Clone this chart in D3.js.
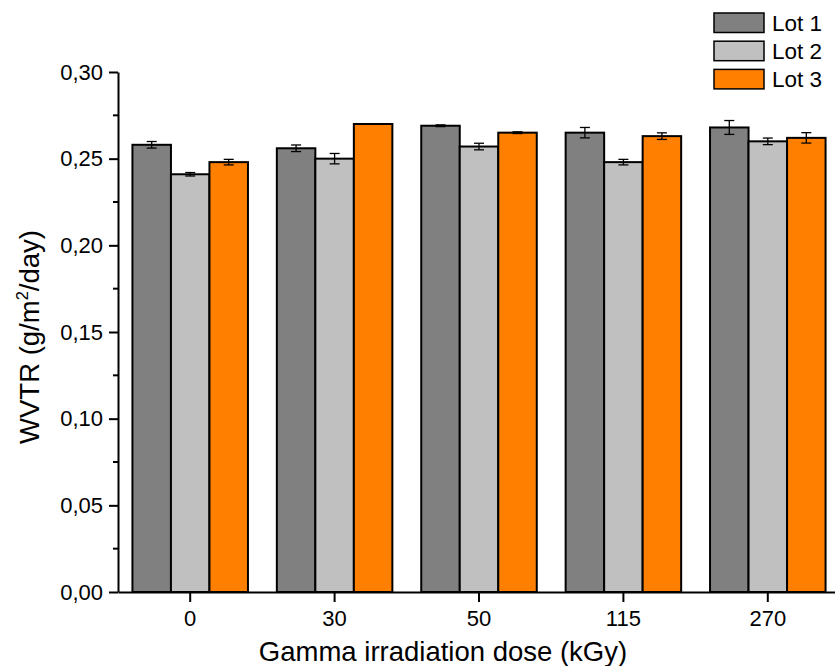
<!DOCTYPE html>
<html><head><meta charset="utf-8">
<script src="https://cdn.jsdelivr.net/npm/d3@7"></script>
<style>body{margin:0;background:#fff}svg{display:block;font-family:Arial,"Liberation Sans",sans-serif}</style>
</head><body><svg id="c" width="835" height="666"></svg>
<script>
const categories = ["0","30","50","115","270"];
const seriesNames = ["Lot 1","Lot 2","Lot 3"];
const lot1 = [0.258,0.256,0.269,0.265,0.268];
const lot2 = [0.241,0.250,0.257,0.248,0.260];
const lot3 = [0.248,0.270,0.265,0.263,0.262];
const err1 = [0.0019,0.0019,0.0005,0.0030,0.0040];
const err2 = [0.0010,0.0030,0.0019,0.0016,0.0019];
const err3 = [0.0016,0.0000,0.0005,0.0019,0.0030];
const colors = ["#808080","#C0C0C0","#FF8000"];
const yTicks = [0,0.05,0.10,0.15,0.20,0.25,0.30];

const values=[lot1,lot2,lot3], errs=[err1,err2,err3];
const svg=d3.select("#c");
const L=118,R=840,T=72,B=592;
const x=d3.scaleBand().domain(categories).range([L,R]).paddingInner(0).paddingOuter(0);
const xs=d3.scaleBand().domain(seriesNames).range([0,x.bandwidth()]).paddingInner(0).paddingOuter(0.375);
const y=d3.scaleLinear().domain([0,0.30]).range([B,T]);

// bars
seriesNames.forEach((s,si)=>{
  const g=svg.append("g");
  g.selectAll("rect").data(categories).join("rect")
    .attr("x",(c)=>x(c)+xs(s)).attr("width",xs.bandwidth())
    .attr("y",(c,i)=>y(values[si][i])).attr("height",(c,i)=>B-y(values[si][i]))
    .attr("fill",colors[si]).attr("stroke","#000").attr("stroke-width",2);
  categories.forEach((c,i)=>{
    const e=errs[si][i]; if(e<=0) return;
    const cx=x(c)+xs(s)+xs.bandwidth()/2;
    const y1=y(values[si][i]+e), y2=y(values[si][i]-e);
    g.append("line").attr("x1",cx).attr("x2",cx).attr("y1",y1).attr("y2",y2).attr("stroke","#000").attr("stroke-width",1.3);
    [y1,y2].forEach(yy=>g.append("line").attr("x1",cx-5).attr("x2",cx+5).attr("y1",yy).attr("y2",yy).attr("stroke","#000").attr("stroke-width",1.3));
  });
});

// y axis
const ya=svg.append("g").attr("transform",`translate(${L},0)`)
  .call(d3.axisLeft(y).tickValues(yTicks).tickSize(9).tickSizeOuter(0).tickPadding(6).tickFormat(d=>d3.format(".2f")(d).replace(".",",")));
ya.select(".domain").attr("stroke-width",2);
ya.selectAll(".tick line").attr("stroke-width",2);
ya.selectAll("text").attr("font-size",22).attr("font-family","Arial,'Liberation Sans',sans-serif").attr("fill","#000");
const minor=d3.range(0.025,0.30,0.05);
svg.append("g").selectAll("line").data(minor).join("line")
  .attr("x1",L-5).attr("x2",L).attr("y1",d=>y(d)).attr("y2",d=>y(d)).attr("stroke","#000").attr("stroke-width",2);

// x axis
const xa=svg.append("g").attr("transform",`translate(0,${B})`)
  .call(d3.axisBottom(x).tickSize(10).tickSizeOuter(0).tickPadding(8));
xa.select(".domain").attr("stroke-width",2);
xa.selectAll(".tick line").attr("stroke-width",2);
xa.selectAll("text").attr("font-size",22).attr("font-family","Arial,'Liberation Sans',sans-serif").attr("fill","#000");

// titles
svg.append("text").attr("x",443).attr("y",661).attr("text-anchor","middle")
  .attr("font-size",27.5).text("Gamma irradiation dose (kGy)");
const yt=svg.append("text").attr("transform",`translate(39,337) rotate(-90)`).attr("text-anchor","middle").attr("font-size",27.5);
yt.append("tspan").text("WVTR (g/m");
yt.append("tspan").attr("font-size",16.5).attr("dy",-11).text("2");
yt.append("tspan").attr("dy",11).text("/day)");

// legend
const lg=svg.append("g");
seriesNames.forEach((s,i)=>{
  lg.append("rect").attr("x",714).attr("y",13+i*28.2).attr("width",50).attr("height",19.5)
    .attr("fill",colors[i]).attr("stroke","#000").attr("stroke-width",1.5);
  lg.append("text").attr("x",772).attr("y",30.5+i*28.2).attr("font-size",22.5).text(s);
});
</script></body></html>
